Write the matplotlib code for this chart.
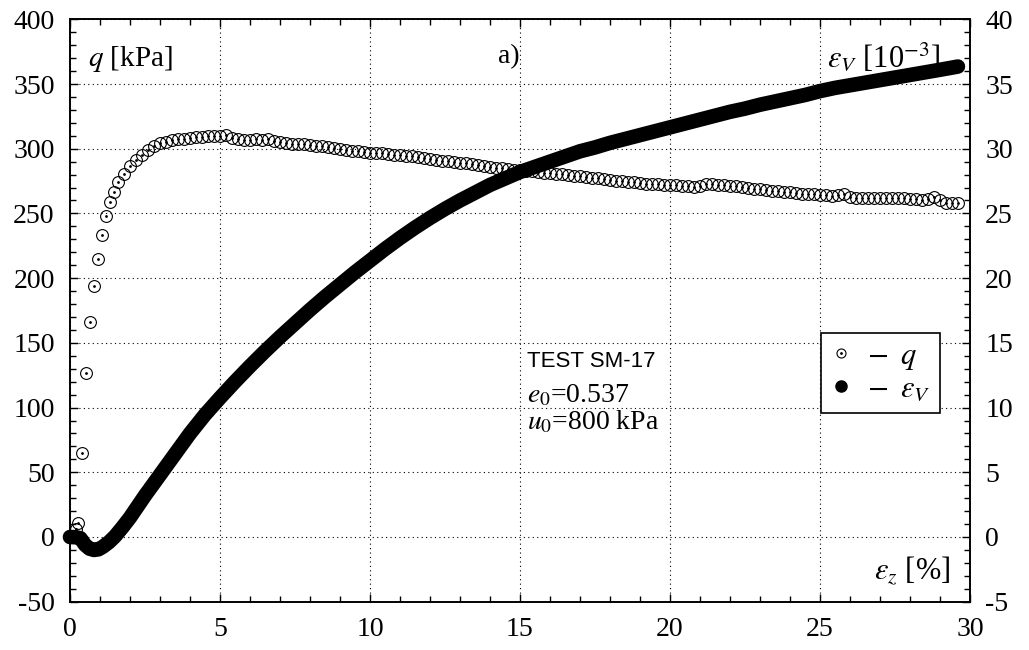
import numpy as np
import matplotlib
matplotlib.use("Agg")
import matplotlib.pyplot as plt
from matplotlib.ticker import MultipleLocator
from matplotlib.lines import Line2D
from matplotlib.legend_handler import HandlerTuple

plt.rcParams['font.family'] = ['Liberation Serif', 'DejaVu Serif']
plt.rcParams['mathtext.fontset'] = 'stix'
plt.rcParams['axes.unicode_minus'] = False

# deviator stress q [kPa] vs axial strain eps_z [%]
q_strain = [0.0, 0.19, 0.28, 0.41, 0.53, 0.67, 0.80, 0.94, 1.07, 1.21, 1.34, 1.47,
            1.6, 1.8, 2.0, 2.2, 2.4, 2.6, 2.8, 3.0, 3.2, 3.4, 3.6, 3.8,
            4.0, 4.2, 4.4, 4.6, 4.8, 5.0, 5.2, 5.4, 5.6, 5.8, 6.0, 6.2,
            6.4, 6.6, 6.8, 7.0, 7.2, 7.4, 7.6, 7.8, 8.0, 8.2, 8.4, 8.6,
            8.8, 9.0, 9.2, 9.4, 9.6, 9.8, 10.0, 10.2, 10.4, 10.6, 10.8, 11.0,
            11.2, 11.4, 11.6, 11.8, 12.0, 12.2, 12.4, 12.6, 12.8, 13.0, 13.2, 13.4,
            13.6, 13.8, 14.0, 14.2, 14.4, 14.6, 14.8, 15.0, 15.2, 15.4, 15.6, 15.8,
            16.0, 16.2, 16.4, 16.6, 16.8, 17.0, 17.2, 17.4, 17.6, 17.8, 18.0, 18.2,
            18.4, 18.6, 18.8, 19.0, 19.2, 19.4, 19.6, 19.8, 20.0, 20.2, 20.4, 20.6,
            20.8, 21.0, 21.2, 21.4, 21.6, 21.8, 22.0, 22.2, 22.4, 22.6, 22.8, 23.0,
            23.2, 23.4, 23.6, 23.8, 24.0, 24.2, 24.4, 24.6, 24.8, 25.0, 25.2, 25.4,
            25.6, 25.8, 26.0, 26.2, 26.4, 26.6, 26.8, 27.0, 27.2, 27.4, 27.6, 27.8,
            28.0, 28.2, 28.4, 28.6, 28.8, 29.0, 29.2, 29.4, 29.6]
q_values = [0.0, 5.9, 11.0, 65.0, 127.0, 166.0, 194.0, 214.5, 233.0, 248.0, 258.5, 266.8,
            274.0, 280.5, 286.5, 291.3, 295.2, 299.3, 302.2, 304.1, 305.5, 306.5, 307.2, 307.8,
            308.3, 308.9, 309.4, 309.6, 310.0, 309.8, 310.6, 308.4, 307.6, 307.0, 306.7, 307.3,
            306.4, 307.4, 305.8, 305.0, 304.4, 304.0, 303.7, 303.3, 302.8, 302.2, 301.9, 301.0,
            300.3, 299.8, 298.9, 298.5, 297.9, 297.4, 297.0, 296.8, 296.4, 296.0, 295.5, 295.1,
            294.7, 294.2, 293.6, 292.9, 292.2, 291.4, 290.8, 290.4, 289.7, 289.2, 288.9, 288.3,
            287.8, 287.0, 286.0, 285.3, 284.8, 284.3, 283.8, 283.4, 283.0, 282.5, 282.0, 281.5,
            281.0, 280.5, 280.1, 279.7, 279.3, 278.9, 278.3, 277.7, 277.1, 276.4, 275.8, 275.4,
            274.9, 274.4, 274.0, 273.5, 273.1, 272.8, 272.6, 272.3, 272.0, 271.7, 271.3, 270.9,
            270.6, 271.0, 273.0, 272.4, 272.0, 271.6, 271.3, 270.9, 270.2, 269.6, 269.1, 268.6,
            268.1, 267.7, 267.2, 266.8, 266.3, 265.8, 265.4, 265.2, 264.9, 264.5, 264.0, 263.4,
            264.4, 265.3, 262.8, 261.7, 261.9, 262.0, 262.1, 262.1, 262.1, 262.0, 261.9, 261.7,
            261.4, 261.0, 260.4, 261.2, 262.6, 260.5, 257.8, 258.4, 258.3]

# volumetric strain eps_V [1e-3]
ev_strain = [0.0, 0.2, 0.35, 0.5, 0.65, 0.8, 0.95, 1.1, 1.3, 1.5, 1.75, 2.0,
             2.5, 3.0, 3.5, 4.0, 4.5, 5.0, 5.5, 6.0, 6.5, 7.0, 7.5, 8.0,
             8.5, 9.0, 9.5, 10.0, 10.5, 11.0, 11.5, 12.0, 12.5, 13.0, 13.5, 14.0,
             14.5, 15.0, 15.5, 16.0, 16.5, 17.0, 17.5, 18.0, 18.5, 19.0, 19.5, 20.0,
             20.5, 21.0, 21.5, 22.0, 22.5, 23.0, 23.5, 24.0, 24.5, 25.0, 25.5, 26.0,
             26.5, 27.0, 27.5, 28.0, 28.5, 29.0, 29.6]
ev_values = [0.0, -0.02, -0.1, -0.6, -0.9, -1.0, -0.95, -0.75, -0.4, 0.05, 0.75, 1.5,
             3.2, 4.8, 6.4, 8.0, 9.45, 10.75, 12.0, 13.2, 14.35, 15.45, 16.5, 17.55,
             18.55, 19.5, 20.45, 21.35, 22.25, 23.1, 23.9, 24.65, 25.35, 26.0, 26.6, 27.2,
             27.7, 28.2, 28.6, 29.0, 29.4, 29.8, 30.1, 30.45, 30.75, 31.05, 31.35, 31.65,
             31.95, 32.25, 32.55, 32.85, 33.1, 33.4, 33.65, 33.9, 34.15, 34.45, 34.7, 34.9,
             35.1, 35.3, 35.5, 35.7, 35.9, 36.1, 36.35]

FS = 20

fig = plt.figure(figsize=(10.29, 6.5), dpi=100)
ax = fig.add_axes([0.0680, 0.0743, 0.8746, 0.8960])
ax2 = ax.twinx()

# q : open circles with a centre dot
ax.plot(q_strain, q_values, ls='none', marker='o', ms=8.5, mfc='none',
        mec='black', mew=0.8, clip_on=False, zorder=3)
ax.plot(q_strain, q_values, ls='none', marker='o', ms=1.0, color='black',
        clip_on=False, zorder=3)

# eps_V : dense filled circles -> thick black band
ax2.plot(ev_strain, ev_values, color='black', lw=10.5, solid_capstyle='round',
         solid_joinstyle='round', clip_on=False, zorder=4)

ax.set_xlim(0, 30)
ax.set_ylim(-50, 400)
ax2.set_ylim(-5, 40)

ax.xaxis.set_major_locator(MultipleLocator(5))
ax.xaxis.set_minor_locator(MultipleLocator(1))
ax.yaxis.set_major_locator(MultipleLocator(50))
ax.yaxis.set_minor_locator(MultipleLocator(10))
ax2.yaxis.set_major_locator(MultipleLocator(5))
ax2.yaxis.set_minor_locator(MultipleLocator(1))

ax.tick_params(which='both', direction='in', top=True, right=False,
               labelsize=FS, pad=11, width=1.0)
ax.tick_params(which='major', length=6)
ax.tick_params(which='minor', length=4)
ax2.tick_params(which='both', direction='in', labelsize=FS, pad=11, width=1.0)
ax2.tick_params(which='major', length=6)
ax2.tick_params(which='minor', length=4)

for a in (ax, ax2):
    for s in a.spines.values():
        s.set_linewidth(1.2)

ax.grid(True, which='major', color='black', lw=0.8, ls=(0, (1, 3)))

# labels inside the frame
ax.text(0.02, 0.92, r'$q$ [kPa]', transform=ax.transAxes, fontsize=FS + 1,
        ha='left', va='baseline')
ax.text(0.5, 0.925, 'a)', transform=ax.transAxes, fontsize=FS,
        ha='right', va='baseline')
ax.text(0.967, 0.918, r'$\varepsilon_V$ [10$^{-3}$]', transform=ax.transAxes,
        fontsize=FS + 2, ha='right', va='baseline', zorder=6)
ax.text(0.978, 0.039, r'$\varepsilon_z$ [%]', transform=ax.transAxes,
        fontsize=FS + 2, ha='right', va='baseline')

ax.text(0.508, 0.403, 'TEST SM-17', transform=ax.transAxes, fontsize=16,
        family='Liberation Sans', ha='left', va='baseline')
ax.text(0.508, 0.343, r'$e_0$=0.537', transform=ax.transAxes, fontsize=FS,
        ha='left', va='baseline')
ax.text(0.508, 0.295, r'$u_0$=800 kPa', transform=ax.transAxes, fontsize=FS,
        ha='left', va='baseline')

# legend
h_q = (Line2D([], [], ls='none', marker='o', ms=6.5, mfc='none', mec='black', mew=0.8),
       Line2D([], [], ls='none', marker='o', ms=1.0, color='black'))
h_e = Line2D([], [], ls='none', marker='o', ms=8, color='black')
leg = ax2.legend([h_q, h_e], [r'$-\;\;q$', r'$-\;\;\varepsilon_V$'],
                 handler_map={tuple: HandlerTuple(ndivide=1, pad=0)},
                 loc='upper left', bbox_to_anchor=(0.835, 0.462),
                 fontsize=FS + 2, frameon=True, fancybox=False, framealpha=1,
                 edgecolor='black', handlelength=0.7, handletextpad=0.5,
                 borderpad=0.3, labelspacing=0.1, borderaxespad=0)
leg.get_frame().set_linewidth(1.2)
leg.set_zorder(10)

fig.savefig('out.png', dpi=100)
